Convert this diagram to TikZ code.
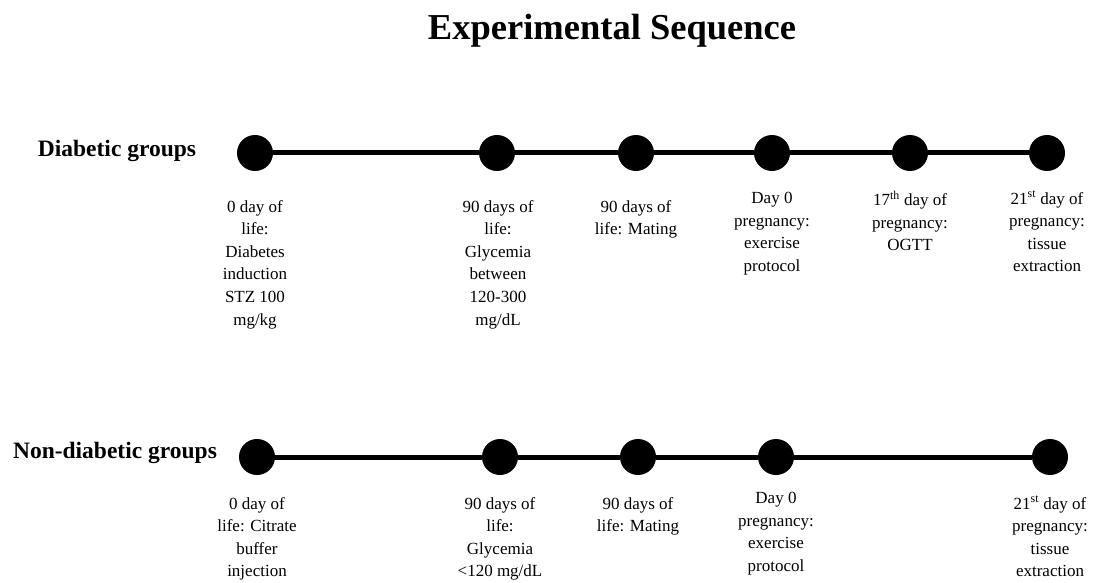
\documentclass[tikz,border=0pt]{standalone}
\usepackage{fontspec}
\setmainfont{Liberation Serif}
\usetikzlibrary{positioning}

\begin{document}
\begin{tikzpicture}[x=1pt,y=-1pt,
  dot/.style={circle,fill=black,minimum size=36pt,inner sep=0pt},
  lbl/.style={align=center,anchor=north,inner sep=0pt,font=\fontsize{17}{22.6}\selectfont},
  grp/.style={font=\fontsize{23.5}{26}\selectfont\bfseries}]
\useasboundingbox (0,0) rectangle (1101,583);
\node[font=\fontsize{36.5}{40}\selectfont\bfseries](title)at(612,31){Experimental Sequence};
% diabetic
\node[grp](dg)at(117,151){Diabetic groups};
\node[dot](d1)at(255,153){};
\node[dot](d2)at(497,153){};
\node[dot](d3)at(636,153){};
\node[dot](d4)at(772,153){};
\node[dot](d5)at(910,153){};
\node[dot](d6)at(1047,153){};
\draw[line width=5pt](d1)--(d2)--(d3)--(d4)--(d5)--(d6);
\node[lbl](td1)at(255,200){0 day of\\life:\\Diabetes\\induction\\STZ 100\\mg/kg};
\node[lbl](td2)at(498,200){90 days of\\life:\\Glycemia\\between\\120-300\\mg/dL};
\node[lbl](td3)at(636,200){90 days of\\life: Mating};
\node[lbl](td4)at(772,192){Day 0\\pregnancy:\\exercise\\protocol};
\node[lbl](td5)at(910,191){17\textsuperscript{th} day of\\pregnancy:\\OGTT};
\node[lbl](td6)at(1047,191){21\textsuperscript{st} day of\\pregnancy:\\tissue\\extraction};
% non-diabetic
\node[grp](ng)at(115,453){Non-diabetic groups};
\node[dot](n1)at(257,457){};
\node[dot](n2)at(500,457){};
\node[dot](n3)at(638,457){};
\node[dot](n4)at(776,457){};
\node[dot](n5)at(1050,457){};
\draw[line width=5pt](n1)--(n2)--(n3)--(n4)--(n5);
\node[lbl](tn1)at(257,497){0 day of\\life: Citrate\\buffer\\injection};
\node[lbl](tn2)at(500,497){90 days of\\life:\\Glycemia\\<120 mg/dL};
\node[lbl](tn3)at(638,497){90 days of\\life: Mating};
\node[lbl](tn4)at(776,492){Day 0\\pregnancy:\\exercise\\protocol};
\node[lbl](tn5)at(1050,496){21\textsuperscript{st} day of\\pregnancy:\\tissue\\extraction};
\end{tikzpicture}
\end{document}
